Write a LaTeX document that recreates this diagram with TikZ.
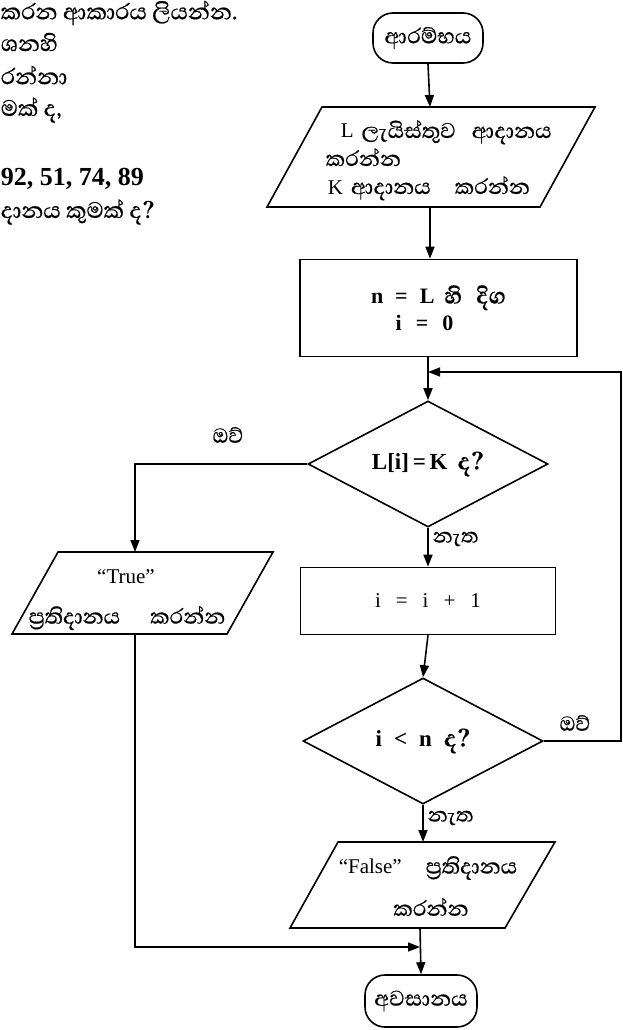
\documentclass[tikz,border=0pt]{standalone}
\usepackage{fontspec}
\setmainfont{Liberation Serif}
\newfontfamily\sinhalafont[Script=Sinhala, Scale=1.3, FakeBold=0.5]{Abhaya Libre}
\newcommand\snh[1]{{\sinhalafont #1}}
\usetikzlibrary{shapes.geometric,arrows.meta}

\begin{document}
\begin{tikzpicture}[x=1pt,y=-1pt,
  line width=1.6pt,
  arr/.style={-{Triangle[length=12pt,width=9pt]}},
  term/.style={draw, rectangle, rounded corners=20pt, minimum width=110pt,
    minimum height=50pt, inner sep=2pt, font=\fontsize{21}{26}\selectfont},
  proc/.style={draw, rectangle, inner sep=2pt, align=center,
    font=\fontsize{21}{24}\selectfont},
  dec/.style={draw, diamond, aspect=2, inner sep=1pt, minimum width=240pt,
    minimum height=126pt, font=\fontsize{23}{26}\selectfont\bfseries},
  txt/.style={inner sep=0pt, font=\fontsize{21}{26}\selectfont},
  lbl/.style={inner sep=1pt, font=\fontsize{20}{22}\selectfont},
  side/.style={inner sep=0pt, anchor=west, font=\fontsize{22}{24}\selectfont},
]
\useasboundingbox (0,0) rectangle (622,1030);

% fragments of the question text at the top left
\node[side] (q0) at (0,13) {\snh{කරන ආකාරය ලියන්න.}};
\node[side] (q1) at (0,42) {\snh{ශනහි}};
\node[side] (q2) at (0,75) {\snh{රන්නා}};
\node[side] (q3) at (0,110) {\snh{මක් ද,}};
\node[side, font=\fontsize{26}{28}\selectfont\bfseries] (q4) at (0,179) {92, 51, 74, 89};
\node[side] (q5) at (0,212) {\snh{දානය කුමක් ද?}};

% start
\node[term] (st) at (428,38) {\snh{ආරම්භය}};

% input list L and K
\coordinate (p1n) at (430,107);
\coordinate (p1s) at (430,207);
\draw (322,107) -- (595,107) -- (540,207) -- (267,207) -- cycle;
\node[txt, anchor=base west] (p1a) at (340,138) {L\hspace{8pt}\snh{ලැයිස්තුව}\hspace{16pt}\snh{ආදානය}};
\node[txt, anchor=base west] (p1b) at (325,166) {\snh{කරන්න}};
\node[txt, anchor=base west] (p1c) at (327,194) {K\hspace{8pt}\snh{ආදානය}\hspace{24pt}\snh{කරන්න}};

% n and i
\node[proc, minimum width=277pt, minimum height=97pt, font=\fontsize{22}{24}\selectfont\bfseries] (r1) at (438.5,308)
  {n\hspace{12pt}=\hspace{12pt}L\hspace{10pt}\snh{හි}\hspace{14pt}\snh{දිග}\\[3pt]
   \hspace{-28pt}i\hspace{14pt}=\hspace{14pt}0};
\coordinate (j1) at (428,372);

% first test
\node[dec] (d1) at (428,464) {L[i]\,=\,K\hspace{10pt}\snh{ද?}};
\node[lbl] (y1) at (228,435) {\snh{ඔව්}};
\node[lbl, anchor=west] (n1) at (431,539) {\snh{නැත}};

% output True
\coordinate (t1n) at (135,552);
\coordinate (t1s) at (135,634);
\draw (58,552) -- (273,552) -- (227,634) -- (12,634) -- cycle;
\node[txt] (t1a) at (126,577) {``True''};
\node[txt] (t1b) at (127,618) {\snh{ප්‍රතිදානය}\hspace{30pt}\snh{කරන්න}};

% increment
\node[proc, minimum width=255pt, minimum height=67pt] (r2) at (428,601)
  {i\hspace{15pt}=\hspace{15pt}i\hspace{15pt}+\hspace{15pt}1};

% second test
\node[dec] (d2) at (423,741) {\raisebox{-4pt}{i\hspace{12pt}<\hspace{12pt}n\hspace{12pt}\snh{ද?}}};
\node[lbl] (y2) at (575,723) {\snh{ඔව්}};
\node[lbl, anchor=west] (n2) at (426,818) {\snh{නැත}};

% output False
\coordinate (f1n) at (423,842);
\coordinate (f1s) at (420,928);
\draw (338,842) -- (555,842) -- (505,928) -- (290,928) -- cycle;
\node[txt] (f1a) at (428,868) {``False''\hspace{24pt}\snh{ප්‍රතිදානය}};
\node[txt] (f1b) at (431,907) {\snh{කරන්න}};
\coordinate (j2) at (420,947);

% end
\node[term, minimum width=112pt, minimum height=52pt] (en) at (421,1001) {\snh{අවසානය}};

% connectors
\draw[arr] (st.south) -- (p1n);
\draw[arr] (p1s) -- (p1s |- r1.north);
\draw (r1.south -| j1) -- (j1);
\draw[arr] (j1) -- (d1.north);
\draw[arr] (d1.west) -| (t1n);
\draw[arr] (d1.south) -- (r2.north);
\draw[arr] (r2.south) -- (d2.north);
\draw[arr] (d2.east) -- ++(77,0) |- (j1);
\draw[arr] (d2.south) -- (f1n);
\draw[arr] (t1s) |- (j2);
\draw[arr] (f1s) -- (en.north);
\end{tikzpicture}
\end{document}
